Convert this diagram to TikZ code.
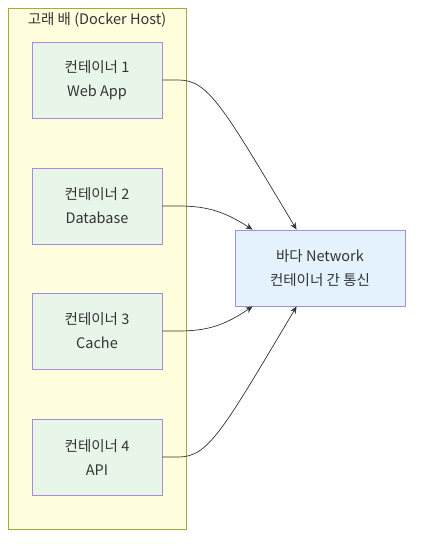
\documentclass[tikz,border=0pt]{standalone}
\usepackage{fontspec}
\setmainfont{Noto Sans CJK KR}
\usetikzlibrary{arrows.meta,calc}
\definecolor{clfill}{HTML}{FFFFDE}
\definecolor{clstroke}{HTML}{AAAA33}
\definecolor{boxfill}{HTML}{E8F5E9}
\definecolor{netfill}{HTML}{E3F2FD}
\definecolor{boxstroke}{HTML}{A98BDB}
\definecolor{txt}{HTML}{333333}
\tikzset{
  ctr/.style={draw=boxstroke, fill=boxfill, line width=0.9pt, minimum width=130pt, minimum height=76pt, align=center, text=txt, font=\fontsize{14.5pt}{24pt}\selectfont, inner sep=0pt},
  netbox/.style={ctr, fill=netfill, minimum width=170pt},
  link/.style={draw=black!80, line width=0.7pt, -{Stealth[length=7pt,width=6pt]}},
}
\begin{document}
\begin{tikzpicture}[x=1pt,y=-1pt]
\useasboundingbox (0,0) rectangle (421,548);
\fill[white] (0,0) rectangle (421,548);
\draw[draw=clstroke, fill=clfill, line width=0.8pt] (8,8) rectangle (186,529);
\node[text=txt, font=\fontsize{14.5pt}{16pt}\selectfont] (title) at (97,20) {고래 배 (Docker Host)};
\node[ctr] (c1) at (97,80) {컨테이너 1\\Web App};
\node[ctr] (c2) at (97,206) {컨테이너 2\\Database};
\node[ctr] (c3) at (97,331) {컨테이너 3\\Cache};
\node[ctr] (c4) at (97,457) {컨테이너 4\\API};
\node[netbox] (net) at (320,268) {바다 Network\\컨테이너 간 통신};
\coordinate (n1) at ($(net.north west)+(62,0)$);
\coordinate (n2) at ($(net.north west)+(18,0)$);
\coordinate (s3) at ($(net.south west)+(18,0)$);
\coordinate (s4) at ($(net.south west)+(62,0)$);
\draw[link] (c1.east) -- ++(16,0) .. controls (208,80) and (222,105) .. (n1);
\draw[link] (c2.east) -- ++(16,0) .. controls (208,206) and (225,212) .. (n2);
\draw[link] (c3.east) -- ++(16,0) .. controls (208,331) and (225,325) .. (s3);
\draw[link] (c4.east) -- ++(16,0) .. controls (208,457) and (222,432) .. (s4);
\end{tikzpicture}
\end{document}
